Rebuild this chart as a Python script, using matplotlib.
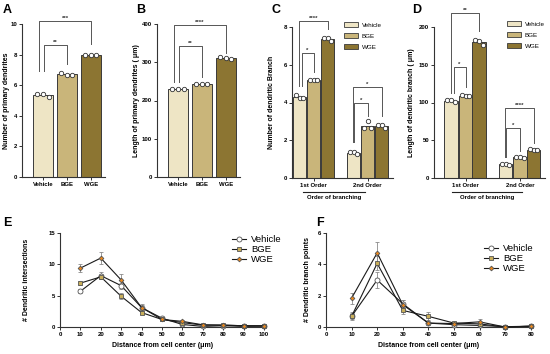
import numpy as np
import matplotlib
matplotlib.use("Agg")
import matplotlib.pyplot as plt
from matplotlib.patches import Patch
from matplotlib.lines import Line2D

plt.rcParams['font.family'] = ['Liberation Sans', 'DejaVu Sans']

# ---- data ----
groups = ['Vehicle', 'BGE', 'WGE']
orders = ['1st Order', '2nd Order']

# A: number of primary dendrites (3 cells per group)
a_pts = [[5.4, 5.4, 5.25], [6.8, 6.65, 6.65], [8.0, 8.0, 8.0]]
# B: length of primary dendrites (um)
b_pts = [[231, 231, 229], [244, 244, 244], [313, 312, 308]]
# C: number of dendritic branches, [order][group]
c_pts = [[[4.4, 4.25, 4.25], [5.2, 5.2, 5.2], [7.4, 7.4, 7.25]],
         [[1.4, 1.4, 1.25], [2.65, 3.0, 2.65], [2.8, 2.8, 2.65]]]
# D: length of dendritic branch (um)
d_pts = [[[103, 103, 101], [110, 109, 108], [183, 182, 176]],
         [[19, 18, 17], [28, 28, 27], [38, 37, 37]]]

# E: Sholl intersections
e_dist = [10, 20, 30, 40, 50, 60, 70, 80, 90, 100]
e_veh = [5.7, 8.2, 6.6, 3.1, 1.4, 0.4, 0.1, 0.2, 0.1, 0.15]
e_veh_err = [0.3, 0.6, 0.5, 0.4, 0.2, 0.2, 0.1, 0.1, 0.1, 0.1]
e_bge = [7.0, 8.0, 4.9, 2.3, 1.2, 0.7, 0.3, 0.3, 0.2, 0.15]
e_bge_err = [0.3, 0.4, 0.5, 0.3, 0.2, 0.2, 0.1, 0.1, 0.1, 0.1]
e_wge = [9.4, 11.0, 7.5, 3.1, 1.2, 0.9, 0.35, 0.3, 0.2, 0.2]
e_wge_err = [0.6, 0.9, 1.0, 0.6, 0.3, 0.2, 0.1, 0.1, 0.1, 0.1]

# F: branch points
f_dist = [10, 20, 30, 40, 50, 60, 70, 80]
f_veh = [0.68, 3.0, 1.48, 0.25, 0.15, 0.1, 0.02, 0.05]
f_veh_err = [0.2, 0.5, 0.25, 0.1, 0.1, 0.05, 0.02, 0.03]
f_bge = [0.68, 4.06, 1.06, 0.68, 0.25, 0.2, 0.0, 0.05]
f_bge_err = [0.25, 0.45, 0.2, 0.25, 0.1, 0.1, 0.02, 0.03]
f_wge = [1.84, 4.73, 1.42, 0.25, 0.22, 0.33, 0.0, 0.05]
f_wge_err = [0.35, 0.7, 0.3, 0.1, 0.1, 0.2, 0.02, 0.03]

bar_colors = ['#EEE5C5', '#C9B57A', '#8C7532']
W, H = 550, 354
fig = plt.figure(figsize=(W / 100, H / 100), dpi=100)
fig.patch.set_facecolor('white')


def px_axes(l, t, r, b):
    return fig.add_axes([l / W, 1 - b / H, (r - l) / W, (b - t) / H])


def style(ax, fs=4.3):
    for s in ['top', 'right']:
        ax.spines[s].set_visible(False)
    for s in ['left', 'bottom']:
        ax.spines[s].set_linewidth(0.8)
        ax.spines[s].set_color('#333333')
    ax.tick_params(length=2, width=0.7, color='#333333', labelsize=fs, pad=1.5)
    for lab in ax.get_xticklabels() + ax.get_yticklabels():
        lab.set_fontweight('bold')


def ylab(ax, text, xpx, left_px, width_px):
    ax.set_ylabel(text, fontsize=5, fontweight='bold')
    ax.yaxis.set_label_coords((xpx - left_px) / width_px, 0.5)


def bars(ax, xs, pts, width):
    for x, p, c in zip(xs, pts, bar_colors):
        ax.bar(x, np.mean(p), width=width, color=c, edgecolor='#3a3a3a', linewidth=0.7, zorder=2)
        off = np.array([-0.28, 0, 0.28]) * width
        ax.scatter(x + off, p, s=10, facecolor='white', edgecolor='#333333', linewidth=0.6, zorder=3,
                   clip_on=False)


def bracket(ax, x1, x2, y, y1, y2, txt, fs=4.3):
    ax.plot([x1, x1, x2, x2], [y1, y, y, y2], color='#555555', lw=0.7, clip_on=False, zorder=4)
    ax.text((x1 + x2) / 2, y, txt, ha='center', va='bottom', fontsize=fs, fontweight='bold',
            color='#333333')


def letter(x, y, s):
    fig.text(x / W, 1 - y / H, s, fontsize=9, fontweight='bold', ha='left', va='center')


# ---- A ----
axA = px_axes(22, 24, 105, 177)
bars(axA, [0, 1, 2], a_pts, 0.83)
axA.set_xlim(-0.88, 2.6)
axA.set_ylim(0, 10)
axA.set_yticks([0, 2, 4, 6, 8, 10])
axA.set_xticks([0, 1, 2])
axA.set_xticklabels(groups)
ylab(axA, 'Number of primary dendrites', 10, 22, 83)
style(axA)
bracket(axA, -0.15, 2, 10.2, 6.9, 8.7, '***')
bracket(axA, 0.05, 1, 8.6, 6.9, 7.4, '**')

# ---- B ----
axB = px_axes(157, 24, 240, 177)
bars(axB, [0, 1, 2], b_pts, 0.83)
axB.set_xlim(-0.88, 2.6)
axB.set_ylim(0, 400)
axB.set_yticks([0, 100, 200, 300, 400])
axB.set_xticks([0, 1, 2])
axB.set_xticklabels(groups)
ylab(axB, 'Length of primary dendrites ( \u03bcm)', 140, 157, 83)
style(axB)
bracket(axB, -0.15, 2, 397, 248, 325, '****')
bracket(axB, 0.05, 1, 342, 248, 262, '**')


def grouped(ax, pts, offs, width):
    for gi in range(2):
        bars(ax, [gi + o for o in offs], pts[gi], width)
    ax.set_xticks([0, 1])
    ax.set_xticklabels(orders)
    ax.tick_params(axis='x', length=0, pad=3)


def order_line(ax, x1, x2):
    ax.plot([x1, x2], [-0.095, -0.095], transform=ax.get_xaxis_transform(), color='#222222',
            lw=0.8, clip_on=False)
    ax.text((x1 + x2) / 2, -0.115, 'Order of branching', transform=ax.get_xaxis_transform(),
            ha='center', va='top', fontsize=4.3, fontweight='bold')


def top_legend(ax, x, y):
    handles = [Patch(facecolor=c, edgecolor='#3a3a3a', linewidth=0.6) for c in bar_colors]
    ax.legend(handles, groups, loc='upper left', bbox_to_anchor=(x / W, 1 - y / H),
              bbox_transform=fig.transFigure, frameon=False, fontsize=4.5, handlelength=2.2,
              handleheight=0.8, labelspacing=0.9, handletextpad=0.6, borderpad=0, borderaxespad=0)


# ---- C ----
axC = px_axes(292, 27, 393, 178)
grouped(axC, c_pts, [-0.26, 0, 0.26], 0.245)
axC.set_xlim(-0.40, 1.47)
axC.set_ylim(0, 8)
axC.set_yticks([0, 2, 4, 6, 8])
ylab(axC, 'Number of dendritic Branch', 275, 292, 101)
style(axC)
bracket(axC, -0.27, 0.26, 8.3, 4.9, 7.9, '****')
bracket(axC, -0.22, 0, 6.6, 4.9, 5.6, '*')
bracket(axC, 0.73, 1.27, 4.8, 1.9, 3.3, '*')
bracket(axC, 0.75, 1.0, 4.0, 1.9, 3.3, '*')
order_line(axC, -0.2, 0.95)
top_legend(axC, 344, 22)

# ---- D ----
axD = px_axes(434, 27, 545, 178)
grouped(axD, d_pts, [-0.265, 0, 0.25], 0.245)
axD.set_xlim(-0.58, 1.46)
axD.set_ylim(0, 200)
axD.set_yticks([0, 50, 100, 150, 200])
ylab(axD, 'Length of dendritic branch ( \u03bcm)', 415, 434, 111)
style(axD)
bracket(axD, -0.27, 0.25, 218, 112, 195, '**')
bracket(axD, -0.22, 0, 147, 112, 120, '*')
bracket(axD, 0.73, 1.25, 93, 28, 46, '****')
bracket(axD, 0.75, 1.0, 66, 28, 36, '*')
order_line(axD, -0.25, 1.03)
top_legend(axD, 507, 21)


# ---- line panels ----
def sholl(ax, xs, series, fs_leg, loc_px):
    styles = [('o', 'white', 3.6), ('s', '#C8AE5A', 3.2), ('D', '#E8871E', 2.4)]
    handles = []
    for (y, e), (m, fc, ms) in zip(series, styles):
        ax.errorbar(xs, y, yerr=e, fmt='none', ecolor='#8a8a8a', elinewidth=0.6, capsize=1.6,
                    capthick=0.6, zorder=2, clip_on=False)
        ax.plot(xs, y, color='#1a1a1a', lw=0.8, marker=m, ms=ms, mfc=fc, mec='#555555', mew=0.6,
                zorder=3, clip_on=False)
        handles.append(Line2D([], [], color='#1a1a1a', lw=0.8, marker=m, ms=ms, mfc=fc,
                              mec='#555555', mew=0.6))
    ax.legend(handles, groups, loc='upper left', bbox_to_anchor=(loc_px[0] / W, 1 - loc_px[1] / H),
              bbox_transform=fig.transFigure, frameon=False, fontsize=fs_leg, handlelength=1.5,
              labelspacing=0.12, handletextpad=0.5, borderpad=0, borderaxespad=0)


axE = px_axes(60, 233, 266, 327)
sholl(axE, e_dist, [(e_veh, e_veh_err), (e_bge, e_bge_err), (e_wge, e_wge_err)], 6.8, (232, 235))
axE.set_xlim(0, 101)
axE.set_ylim(0, 15)
axE.set_xticks(range(0, 101, 10))
axE.set_yticks([0, 5, 10, 15])
axE.set_xlabel('Distance from cell center (\u03bcm)', fontsize=5, fontweight='bold', labelpad=4)
ylab(axE, '# Dendritic intersections', 30, 60, 206)
style(axE)

axF = px_axes(326, 233, 532, 327)
sholl(axF, f_dist, [(f_veh, f_veh_err), (f_bge, f_bge_err), (f_wge, f_wge_err)], 6.8, (484, 244))
axF.set_xlim(0, 80.5)
axF.set_ylim(0, 6)
axF.set_xticks(range(0, 81, 10))
axF.set_yticks([0, 2, 4, 6])
axF.set_xlabel('Distance from cell center (\u03bcm)', fontsize=5, fontweight='bold', labelpad=4)
ylab(axF, '# Dendritic branch points', 311, 326, 206)
style(axF)

letter(3, 10, 'A')
letter(136, 10, 'B')
letter(272, 10, 'C')
letter(412, 10, 'D')
letter(3, 223, 'E')
letter(316, 223, 'F')

fig.savefig('out.png', dpi=100)
